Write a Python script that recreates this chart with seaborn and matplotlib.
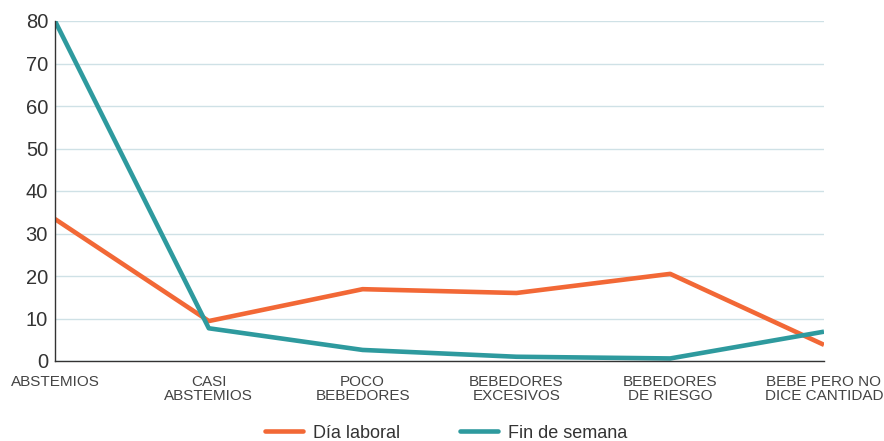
import matplotlib
matplotlib.use("Agg")
import matplotlib.pyplot as plt
import seaborn as sns
import pandas as pd

categories = ["ABSTEMIOS", "CASI\nABSTEMIOS", "POCO\nBEBEDORES", "BEBEDORES\nEXCESIVOS",
              "BEBEDORES\nDE RIESGO", "BEBE PERO NO\nDICE CANTIDAD"]
dia_laboral = [33.4, 9.4, 16.9, 16.0, 20.5, 3.8]
fin_de_semana = [80.0, 7.7, 2.6, 1.0, 0.6, 6.9]
series_names = ["Día laboral", "Fin de semana"]
y_ticks = [0, 10, 20, 30, 40, 50, 60, 70, 80]

sns.set_theme(style="white")
plt.rcParams["font.family"] = ["Liberation Sans", "DejaVu Sans"]

df = pd.DataFrame({
    "pos": list(range(len(categories))) * 2,
    "valor": dia_laboral + fin_de_semana,
    "serie": [series_names[0]] * len(categories) + [series_names[1]] * len(categories),
})

palette = {series_names[0]: "#f26836", series_names[1]: "#2e9a9e"}

fig = plt.figure(figsize=(8.84, 4.41), dpi=100)
ax = fig.add_axes([55 / 884, 1 - 361 / 441, (824 - 55) / 884, (361 - 21) / 441])

sns.lineplot(data=df, x="pos", y="valor", hue="serie", palette=palette,
             linewidth=3.3, ax=ax, legend=False, solid_capstyle="butt")

ax.set_xlim(0, len(categories) - 1)
ax.set_ylim(0, 80)
ax.set_yticks(y_ticks)
ax.set_yticklabels([str(v) for v in y_ticks], fontsize=14.5, color="#333333")
ax.set_xticks(range(len(categories)))
ax.set_xticklabels(categories, fontsize=11, color="#444444", linespacing=1.05)
ax.set_xlabel("")
ax.set_ylabel("")

ax.yaxis.grid(True, color="#cfe1e6", linewidth=1)
ax.xaxis.grid(False)
ax.set_axisbelow(True)
ax.tick_params(axis="y", length=0, pad=5)
ax.tick_params(axis="x", direction="in", length=6, width=1, color="#333333", pad=10)

for side in ["top", "right"]:
    ax.spines[side].set_visible(False)
for side in ["left", "bottom"]:
    ax.spines[side].set_color("#333333")
    ax.spines[side].set_linewidth(1)

handles = [plt.Line2D([], [], color=palette[n], linewidth=3.3) for n in series_names]
fig.legend(handles, series_names, loc="center", bbox_to_anchor=(446 / 884, 1 - 433 / 441),
           ncol=2, frameon=False, fontsize=13, handlelength=2.1, columnspacing=3.3,
           handletextpad=0.55, labelcolor="#333333")

fig.savefig("out.png", dpi=100)
